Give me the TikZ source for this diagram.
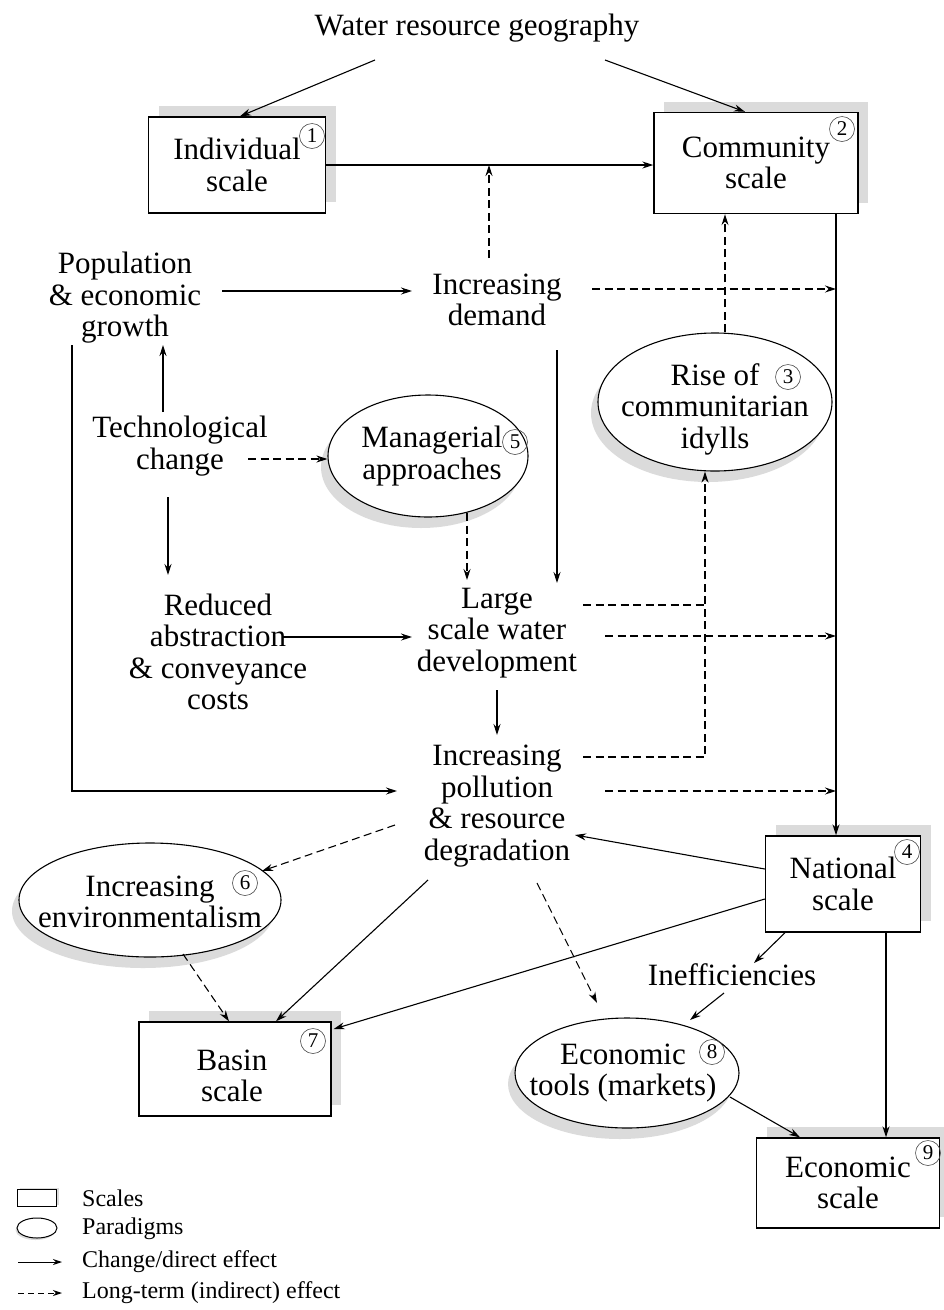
\documentclass[tikz,border=0pt]{standalone}
\usepackage{fontspec}
\setmainfont{Liberation Serif}
\usetikzlibrary{calc,shadows,shapes.geometric,arrows.meta}

\tikzset{
  txt/.style={align=center, inner sep=0pt, font=\fontsize{31}{31.5}\selectfont},
  scalebox/.style={txt, draw, line width=1.4pt, fill=white,
    drop shadow={shadow xshift=10pt, shadow yshift=11pt, fill=black!14, opacity=1}},
  paradigm/.style={ellipse, draw, line width=1.1pt, fill=white, inner sep=0pt,
    drop shadow={shadow xshift=-7pt, shadow yshift=-11pt, fill=black!14, opacity=1}},
  num/.style={circle, draw=black!70, line width=0.6pt, inner sep=0pt, minimum size=25pt,
    font=\fontsize{21}{21}\selectfont},
  arr/.style={line width=1.1pt, -{Stealth[length=11pt,width=7pt]}},
  darr/.style={arr, dash pattern=on 8pt off 4.5pt},
  dline/.style={line width=1.1pt, dash pattern=on 8pt off 4.5pt},
  legend/.style={anchor=west, inner sep=0pt, font=\fontsize{24}{24}\selectfont},
}

\begin{document}
\begin{tikzpicture}[x=1pt, y=-1pt]
\useasboundingbox (0,0) rectangle (943,1310);

% scales and paradigms
\node[txt] (title) at (477,28) {Water resource geography};
\node[scalebox, minimum width=177pt, minimum height=96pt] (ind) at (237,165) {Individual\\scale};
\node[scalebox, minimum width=204pt, minimum height=101pt] (comm) at (756,163) {Community\\scale};
\node[txt] (pop) at (125,298) {Population\\\& economic\\growth};
\node[txt] (demand) at (497,300) {Increasing\\demand};
\node[txt] (tech) at (180,446) {Technological\\change};
\node[paradigm, minimum width=200pt, minimum height=122pt] (mgr) at (428,456) {};
\node[txt] (mgrt) at ($(mgr)+(4,0)$) {Managerial\\approaches};
\node[paradigm, minimum width=234pt, minimum height=138pt] (rise) at (715,402) {};
\node[txt] (riset) at ($(rise)+(0,7)$) {Rise of\\communitarian\\idylls};
\node[txt] (red) at (218,652) {Reduced\\abstraction\\\& conveyance\\costs};
\node[txt] (large) at (497,633) {Large\\scale water\\development};
\node[txt] (poll) at (497,806) {Increasing\\pollution\\\& resource\\degradation};
\node[paradigm, minimum width=262pt, minimum height=114pt] (env) at (150,900) {};
\node[txt] (envt) at ($(env)+(0,2)$) {Increasing\\environmentalism};
\node[scalebox, minimum width=155pt, minimum height=96pt] (nat) at (843,884) {National\\scale};
\node[txt] (ineff) at (732,975) {Inefficiencies};
\node[scalebox, minimum width=192pt, minimum height=94pt] (basin) at (235,1069) {};
\node[txt] (basint) at ($(basin)+(-3,7)$) {Basin\\scale};
\node[paradigm, minimum width=224pt, minimum height=110pt] (tools) at (627,1073) {};
\node[txt] (toolst) at ($(tools)+(-4,0)$) {Economic\\tools (markets)};
\node[scalebox, minimum width=183pt, minimum height=90pt] (econ) at (848,1183) {Economic\\scale};

\foreach \n/\x/\y in {1/312/136, 2/842/129, 3/788/377, 4/907/852, 5/515/442,
                      6/245/883, 7/313/1041, 8/712/1052, 9/928/1153}
  \node[num] (n\n) at (\x,\y) {\n};

% links
\coordinate (vl) at ($(comm.south)+(80,0)$);
\draw[arr] ($(title)+(-102,32)$) -- ($(ind.north)+(3,0)$);
\draw[arr] ($(title)+(128,32)$) -- ($(comm.north)+(-11,0)$);
\draw[arr] (ind.east) -- (ind.east -| comm.west);
\coordinate (jd) at ($(demand)+(-8,-42)$);
\draw[darr] (jd) -- (jd |- ind.east);
\draw[darr] ($(rise.north)+(10,0)$) -- ($(comm.south)+(-31,0)$);
\draw[arr] (vl) -- ($(nat.north)+(-7,0)$);
\draw[arr] ($(pop)+(97,-7)$) -- ($(demand)+(-85,-9)$);
\coordinate (d8) at ($(demand)+(95,-11)$);
\draw[darr] (d8) -- (d8 -| vl);
\draw[arr] ($(demand)+(60,50)$) -- ($(large)+(60,-50)$);
\draw[arr] ($(tech)+(-17,-34)$) -- ($(pop)+(38,47)$);
\coordinate (t11) at ($(tech)+(68,13)$);
\draw[darr] (t11) -- (t11 -| mgr.west);
\draw[darr] ($(mgr)+(39,57)$) -- ($(large)+(-30,-53)$);
\draw[arr] ($(tech)+(-12,51)$) -- ($(red)+(-50,-77)$);
\draw[arr] ($(red)+(64,-15)$) -- ($(large)+(-85,4)$);
\draw[dline] ($(large)+(86,-28)$) -- ($(large)+(208,-28)$);
\draw[darr] ($(poll)+(86,-49)$) -| ($(rise.south)+(-10,0)$);
\coordinate (l17) at ($(large)+(108,3)$);
\draw[darr] (l17) -- (l17 -| vl);
\draw[arr] ($(large)+(0,57)$) -- ($(poll)+(0,-71)$);
\draw[arr] ($(pop)+(-53,47)$) |- ($(poll)+(-100,-15)$);
\coordinate (p20) at ($(poll)+(108,-15)$);
\draw[darr] (p20) -- (p20 -| vl);
\draw[arr] ($(nat.west)+(0,-15)$) -- ($(poll)+(78,29)$);
\draw[arr] ($(nat.west)+(0,15)$) -- ($(basin.east)+(2,-40)$);
\draw[arr] ($(nat.south)+(-58,0)$) -- ($(ineff)+(22,-12)$);
\draw[arr] ($(ineff)+(-8,18)$) -- ($(tools)+(63,-53)$);
\draw[arr] ($(nat.south)+(43,0)$) -- ($(econ.north)+(38,0)$);
\draw[darr] ($(poll)+(40,77)$) -- ($(tools)+(-30,-70)$);
\draw[darr] ($(poll)+(-102,19)$) -- ($(env)+(112,-29)$);
\draw[arr] ($(poll)+(-69,74)$) -- ($(basin.north)+(41,0)$);
\draw[darr] ($(env)+(33,54)$) -- ($(basin.north)+(-6,0)$);
\draw[arr] ($(tools)+(103,24)$) -- ($(econ.north)+(-48,0)$);

% legend
\node[draw, line width=1.1pt, fill=white, minimum width=39pt, minimum height=17pt, inner sep=0pt,
  drop shadow={shadow xshift=2pt, shadow yshift=2pt, fill=black!14, opacity=1}] (lgbox) at (37,1198) {};
\node[ellipse, draw, line width=1pt, fill=white, minimum width=40pt, minimum height=20pt, inner sep=0pt,
  drop shadow={shadow xshift=-1.5pt, shadow yshift=-2pt, fill=black!14, opacity=1}] (lgell) at (37,1228) {};
\node[legend] (lgt1) at (82,1198) {Scales};
\node[legend] (lgt2) at (82,1229) {Paradigms};
\node[legend] (lgt3) at (82,1262) {Change/direct effect};
\node[legend] (lgt4) at (82,1293) {Long-term (indirect) effect};
\coordinate (lg3) at (18,1262);
\coordinate (lg4) at (18,1293);
\draw[line width=1pt, -{Stealth[length=9pt,width=6pt]}] (lg3) -- ($(lgt3.west)+(-20,0)$);
\draw[line width=1pt, dash pattern=on 6pt off 4pt, -{Stealth[length=9pt,width=6pt]}] (lg4) -- ($(lgt4.west)+(-20,0)$);
\end{tikzpicture}
\end{document}
